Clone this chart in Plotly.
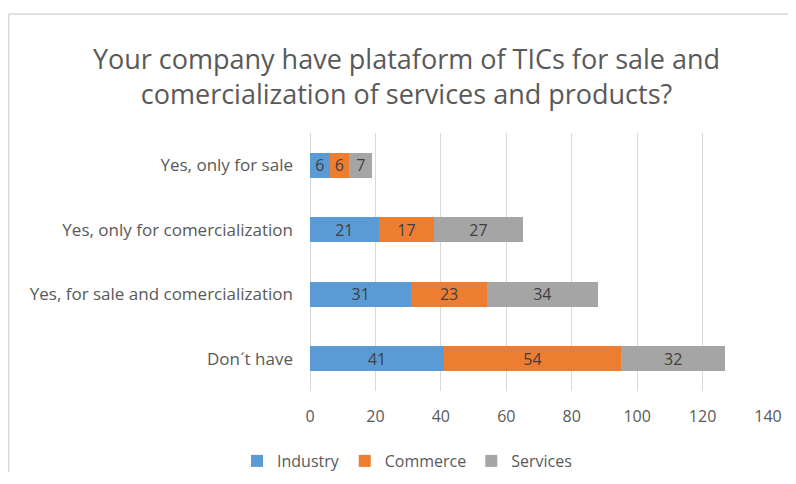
import plotly.graph_objects as go

categories = ["Yes, only for sale", "Yes, only for comercialization",
              "Yes, for sale and comercialization", "Don´t have"]
industry = [6, 21, 31, 41]
commerce = [6, 17, 23, 54]
services = [7, 27, 34, 32]
series_names = ["Industry", "Commerce", "Services"]
colors = ["#5B9BD5", "#ED7D31", "#A5A5A5"]
x_ticks = [0, 20, 40, 60, 80, 100, 120, 140]

FONT = "Open Sans"
fig = go.Figure()
for name, vals, col in zip(series_names, [industry, commerce, services], colors):
    fig.add_trace(go.Bar(
        y=categories, x=vals, name=name, orientation="h",
        marker=dict(color=col, line=dict(width=0)),
        text=[str(v) for v in vals], textposition="inside",
        insidetextanchor="middle", textangle=0,
        textfont=dict(color="#404040", size=16, family=FONT),
    ))

# page body has an 8px margin, so the figure sits at (8, 8) in the window
W, H = 780, 464
L, T = 302, 125
R = W - (768 - 8)
B = H - (391 - 8)
pw = W - L - R
ph = H - T - B

border = dict(color="#D9D9D9", width=1.5)
fig.update_layout(
    width=W, height=H, barmode="stack", bargap=0.61,
    margin=dict(l=L, r=R, t=T, b=B, pad=0, autoexpand=False),
    paper_bgcolor="white", plot_bgcolor="white",
    font=dict(family=FONT, color="#595959", size=16),
    uniformtext=dict(minsize=16, mode="show"),
    title=dict(
        text="Your company have plataform of TICs for sale and<br>comercialization of services and products?",
        x=398.5 / W, xref="container", xanchor="center",
        y=1 - 61 / H, yref="container", yanchor="middle",
        font=dict(size=27, color="#595959", family=FONT),
    ),
    xaxis=dict(range=[0, 140], tickvals=x_ticks, showgrid=True, gridcolor="#D9D9D9",
               gridwidth=1, zeroline=True, zerolinecolor="#D9D9D9", zerolinewidth=1,
               showline=False, ticks="", tickfont=dict(size=16, color="#595959"),
               ticklabelstandoff=14, fixedrange=True, automargin=False),
    yaxis=dict(categoryorder="array", categoryarray=categories[::-1],
               showgrid=False, zeroline=False, showline=False, ticks="",
               tickfont=dict(size=17, color="#595959"), ticklabelstandoff=16,
               fixedrange=True, automargin=False),
    legend=dict(orientation="h", x=399 / W, xref="container", xanchor="center",
                y=1 - 453 / H, yref="container", yanchor="middle",
                font=dict(size=16, color="#595959"), traceorder="normal",
                itemwidth=30),
    shapes=[
        dict(type="line", xref="paper", yref="paper",
             x0=(0.75 - L) / pw, x1=(W + 30 - L) / pw,
             y0=(H - B - 6) / ph, y1=(H - B - 6) / ph, line=border, layer="below"),
        dict(type="line", xref="paper", yref="paper",
             x0=(0.75 - L) / pw, x1=(0.75 - L) / pw,
             y0=(H - B - 6) / ph, y1=-(B + 30) / ph, line=border, layer="below"),
    ],
)

fig.write_html("out.html")
